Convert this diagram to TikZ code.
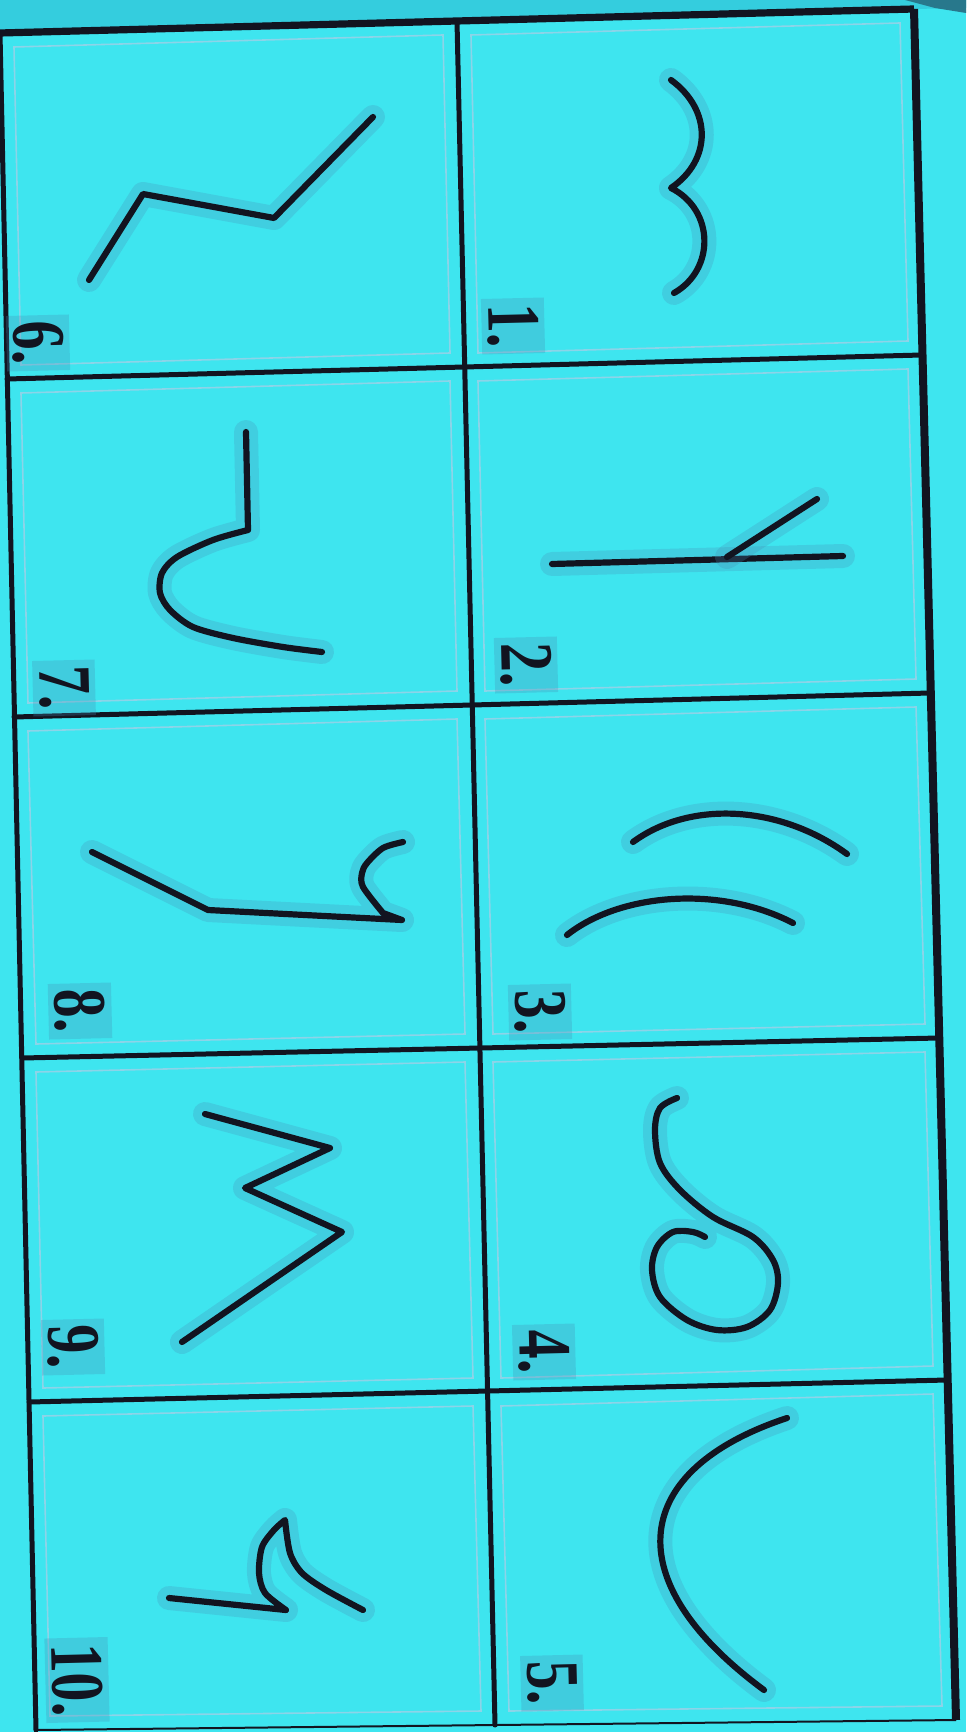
\documentclass[tikz,border=0pt]{standalone}
\usepackage{fontspec}
\setmainfont{Liberation Serif}
\usetikzlibrary{calc}
\definecolor{scanbg}{RGB}{62,229,239}
\definecolor{topband}{RGB}{52,205,222}
\definecolor{tealpatch}{RGB}{40,120,140}
\definecolor{ink}{RGB}{18,20,32}
\definecolor{halo}{RGB}{70,140,180}
\definecolor{rimc}{RGB}{140,212,232}
\newcommand\numtxt[1]{\scalebox{1}[1.3]{#1}}
\tikzset{cellrule/.style={draw=ink,line width=2.5pt,line cap=round},
  outerrule/.style={draw=ink,line width=3.6pt},
  rim/.style={draw=rimc,line width=0.8pt},
  glyph/.style={draw=ink,line width=3.1pt,line cap=round,line join=round,
    preaction={draw=halo,draw opacity=0.25,line width=12pt,line cap=round,line join=round}},
  numlab/.style={font=\fontsize{29}{29}\selectfont\bfseries,text=ink,rotate=-88.6,inner sep=3pt,fill=halo,fill opacity=0.28,text opacity=1}}

\begin{document}
\begin{tikzpicture}[x=0.5pt,y=-0.5pt]
\useasboundingbox (0,0) rectangle (966,1732);
\fill[scanbg] (0,0) rectangle (966,1732);
\fill[topband] (0,0) -- (966,0) -- (966,8) -- (914,9) -- (0,33) -- cycle;
\fill[tealpatch] (905,0) -- (966,0) -- (966,13) -- (935,8) -- cycle;

\coordinate (L0) at (0,33);    \coordinate (M0) at (457,21);   \coordinate (R0) at (914,9);
\coordinate (L1) at (7,379);   \coordinate (M1) at (464,367);  \coordinate (R1) at (922,355);
\coordinate (L2) at (14,717);  \coordinate (M2) at (471,705);  \coordinate (R2) at (930,693);
\coordinate (L3) at (22,1058); \coordinate (M3) at (479,1048); \coordinate (R3) at (939,1038);
\coordinate (L4) at (29,1402); \coordinate (M4) at (487,1392); \coordinate (R4) at (947,1380);
\coordinate (L5) at (36,1730); \coordinate (M5) at (495,1725); \coordinate (R5) at (956,1720);

\foreach \j [evaluate=\j as \k using int(\j+1)] in {0,...,4} {
  \draw[rim] ($(L\j)+(14,14)$) -- ($(M\j)+(-14,14)$) -- ($(M\k)+(-14,-14)$) -- ($(L\k)+(14,-14)$) -- cycle;
  \draw[rim] ($(M\j)+(14,14)$) -- ($(R\j)+(-14,14)$) -- ($(R\k)+(-14,-14)$) -- ($(M\k)+(14,-14)$) -- cycle;
}
\foreach \j in {1,...,4} \draw[cellrule] (L\j) -- (R\j);
\draw[outerrule] (L0) -- (R0);
\draw[cellrule] (M0) -- (M5);
\draw[cellrule] (L0) -- (L5);
\draw[outerrule,line width=4pt] (R0) -- (R5);
\draw[draw=ink,line width=1pt] (L5) -- (R5);

\draw[glyph] (671,80) .. controls (712,110) and (712,160) .. (671,188)
  .. controls (715,210) and (715,270) .. (674,293);
\draw[glyph] (552,564) -- (843,556);
\draw[glyph] (727,557) -- (817,499);
\draw[glyph] (633,842) .. controls (690,800) and (780,805) .. (847,854);
\draw[glyph] (567,935) .. controls (620,893) and (720,885) .. (793,923);
\draw[glyph] plot[smooth,tension=0.55] coordinates {(677,1098) (660,1108) (655,1130) (660,1163) (680,1190) (713,1217) (753,1237) (773,1260) (778,1283) (770,1310) (747,1327) (717,1330) (687,1320) (660,1297) (652,1270) (657,1247) (673,1232) (693,1232) (705,1237)};
\draw[glyph] (787,1418) .. controls (630,1470) and (615,1580) .. (764,1690);

\draw[glyph] (89,280) -- (143,194) -- (274,218) -- (373,117);
\draw[glyph] (246,432) -- plot[smooth] coordinates {(248,530) (213,540) (177,557) (162,573) (160,593) (170,610) (193,627) (233,638) (283,647) (322,652)};
\draw[glyph] (92,852) -- (208,910) -- (402,920) -- plot[smooth] coordinates {(383,913) (363,887) (362,873) (367,863) (383,848) (403,842)};
\draw[glyph] (205,1114) -- (330,1148) -- (245,1188) -- (342,1232) -- (182,1342);
\draw[glyph] (169,1598) -- plot[smooth] coordinates {(286,1610) (265,1593) (259,1573) (262,1547) (274,1530) (285,1520)}
  -- plot[smooth] coordinates {(285,1520) (290,1553) (302,1573) (326,1590) (363,1610)};

\node[numlab] (n1) at (513,326) {\numtxt{1.}};
\node[numlab] (n2) at (526,665) {\numtxt{2.}};
\node[numlab] (n3) at (540,1012) {\numtxt{3.}};
\node[numlab] (n4) at (544,1352) {\numtxt{4.}};
\node[numlab] (n5) at (552,1683) {\numtxt{5.}};
\node[numlab] (n6) at (38,343) {\numtxt{6.}};
\node[numlab] (n7) at (64,688) {\numtxt{7.}};
\node[numlab] (n8) at (80,1011) {\numtxt{8.}};
\node[numlab] (n9) at (73,1347) {\numtxt{9.}};
\node[numlab] (n10) at (77,1680) {\numtxt{10.}};
\end{tikzpicture}
\end{document}
